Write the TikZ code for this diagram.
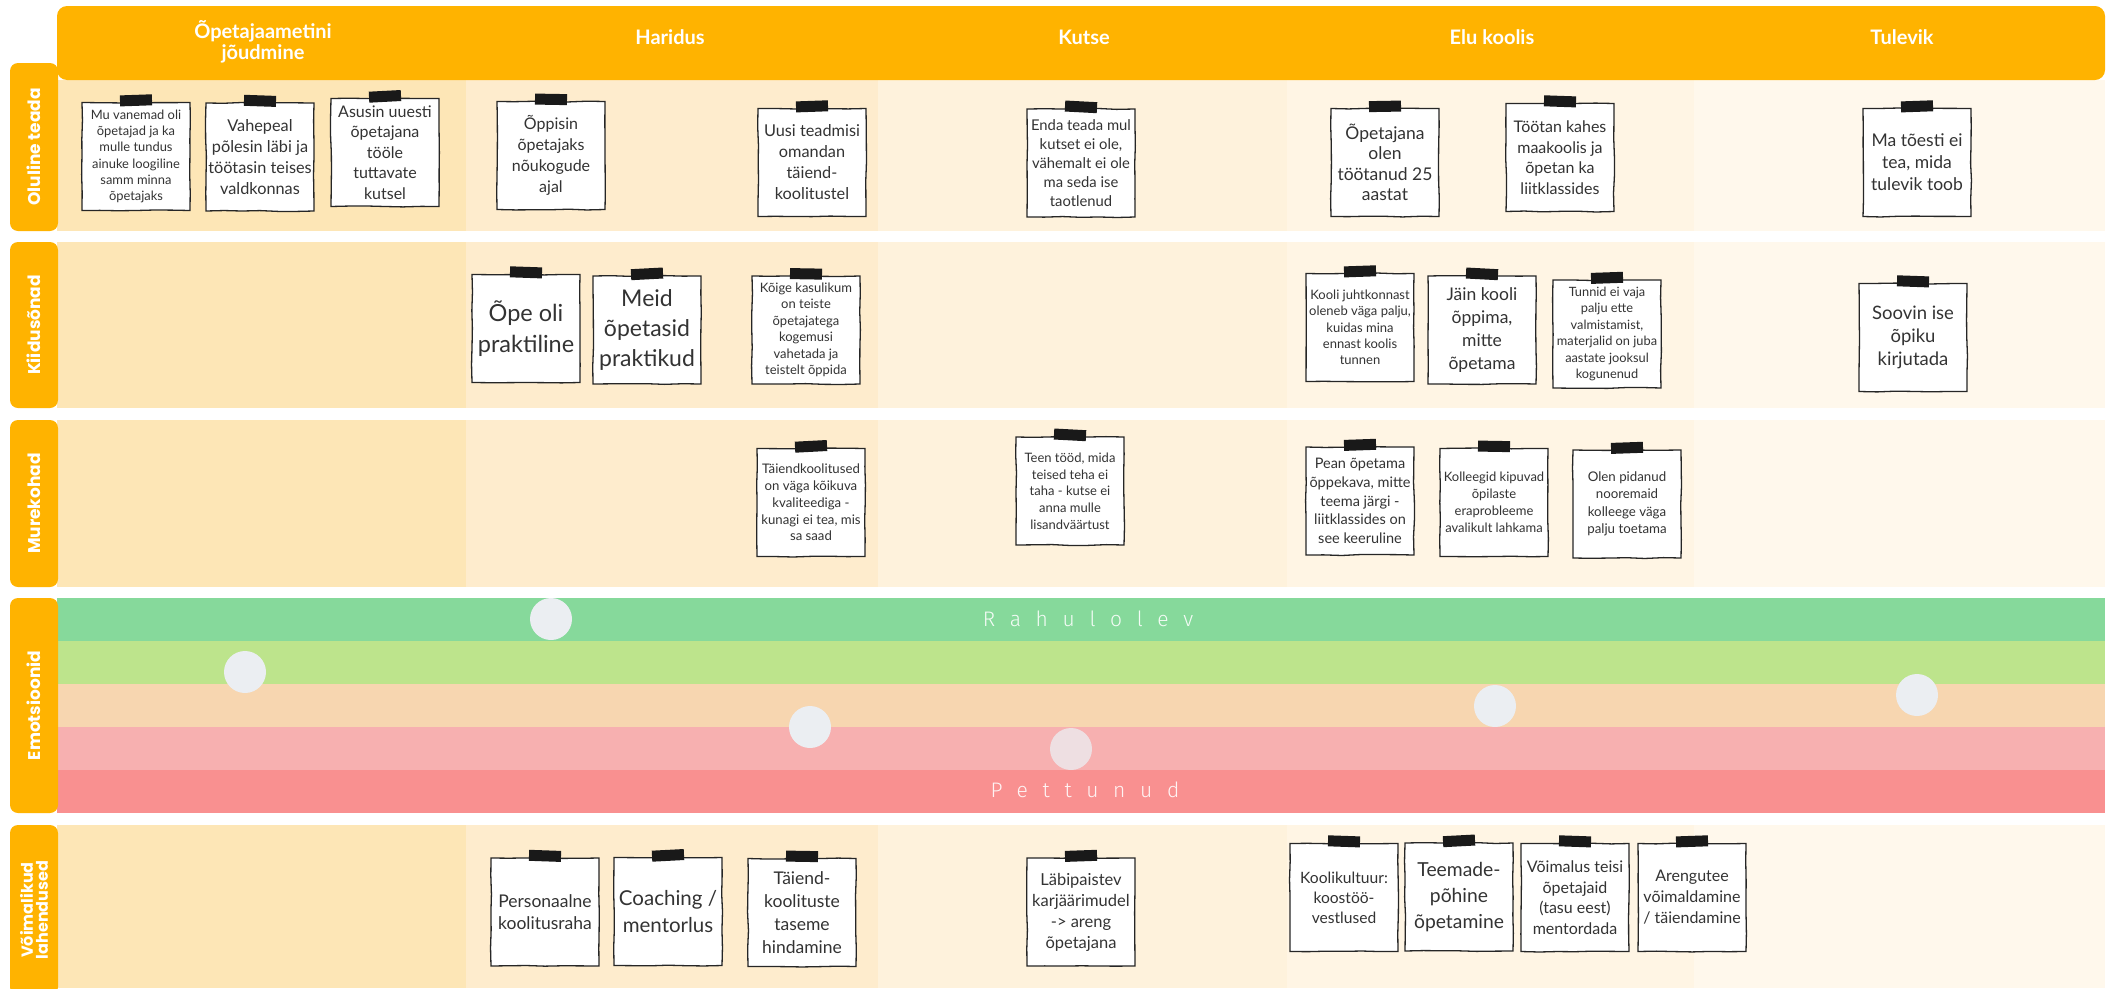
\documentclass[tikz,border=0pt]{standalone}
\usepackage{fontspec}
\setmainfont{Lato}
\newfontfamily\notefont{Lato}
\newfontfamily\headfont{Lato}
\newfontfamily\tabfont{Poppins}
\newfontfamily\moodfont[LetterSpace=70, UprightFont=* Light]{Fira Sans}
\usepackage{tikz}
\usetikzlibrary{positioning,decorations.pathmorphing}

\definecolor{amber}{HTML}{FFB300}
\definecolor{colA}{HTML}{FDE6B6}
\definecolor{colB}{HTML}{FEECCD}
\definecolor{colC}{HTML}{FEF2DC}
\definecolor{colD}{HTML}{FFF5E4}
\definecolor{colE}{HTML}{FFF8EC}
\definecolor{bandA}{HTML}{86D99B}
\definecolor{bandB}{HTML}{BDE48C}
\definecolor{bandC}{HTML}{F7D6B0}
\definecolor{bandD}{HTML}{F7B0B0}
\definecolor{bandE}{HTML}{F99090}
\definecolor{bubble}{HTML}{EBEEF2}
\definecolor{bubblepink}{HTML}{EEDFE2}
\definecolor{ink}{HTML}{333333}

\begin{document}
\begin{tikzpicture}[x=1pt, y=-1pt,
    notebox/.style={draw=black!85, fill=white, line width=1.3pt, minimum width=108pt,
        minimum height=108pt, inner sep=1pt, align=center, text=ink, font=\notefont,
        decorate, decoration={random steps, segment length=18pt, amplitude=0.5pt}},
    fsz/.style 2 args={font=\notefont\fontsize{#1}{#2}\selectfont},
    tape/.style={fill=black!90, minimum width=32pt, minimum height=11pt, inner sep=0pt},
    tab/.style={fill=amber, rounded corners=8pt, minimum height=48pt, inner sep=0pt,
        text=white, align=center, font=\tabfont\bfseries\fontsize{17}{18}\selectfont},
    head/.style={text=white, align=center, font=\headfont\bfseries\fontsize{20}{21}\selectfont},
    mood/.style={circle, fill=bubble, minimum size=42pt, inner sep=0pt},
    moodtext/.style={text=white, opacity=0.9, font=\moodfont\fontsize{21}{24}\selectfont}]

    \pgfmathsetseed{7}
    \useasboundingbox (0,0) rectangle (2114,988);
    \fill[white] (0,0) rectangle (2114,988);

    % Columns (all rows)
    \fill[colA] (57,80) rectangle (466,988);
    \fill[colB] (466,80) rectangle (878,988);
    \fill[colC] (878,80) rectangle (1287,988);
    \fill[colD] (1287,80) rectangle (1694,988);
    \fill[colE] (1694,80) rectangle (2105,988);

    % Gaps between rows
    \fill[white] (57,231) rectangle (2114,242);
    \fill[white] (57,408) rectangle (2114,420);
    \fill[white] (57,587) rectangle (2114,598);
    \fill[white] (57,813) rectangle (2114,825);

    % Emotion bands
    \fill[bandA] (57,598) rectangle (2105,641);
    \fill[bandB] (57,641) rectangle (2105,684);
    \fill[bandC] (57,684) rectangle (2105,727);
    \fill[bandD] (57,727) rectangle (2105,770);
    \fill[bandE] (57,770) rectangle (2105,813);

    % Header
    \fill[amber, rounded corners=10pt] (57,6) rectangle (2105,80);
    \node[head] (h1) at (263,42) {Õpetajaametini\\jõudmine};
    \node[head] (h2) at (670,37) {Haridus};
    \node[head] (h3) at (1084,37) {Kutse};
    \node[head] (h4) at (1492,37) {Elu koolis};
    \node[head] (h5) at (1902,37) {Tulevik};

    % Row labels
    \node[tab, rotate=90, minimum width=168pt] (r1) at (34,147) {Oluline teada};
    \node[tab, rotate=90, minimum width=166pt] (r2) at (34,325) {Kiidusõnad};
    \node[tab, rotate=90, minimum width=167pt] (r3) at (34,503.5) {Murekohad};
    \node[tab, rotate=90, minimum width=215pt] (r4) at (34,705.5) {Emotsioonid};
    \node[tab, rotate=90, minimum width=170pt,
        font=\tabfont\bfseries\fontsize{16}{15}\selectfont] (r5) at (34,910) {Võimalikud\\lahendused};

    % Row 1: Oluline teada
    \node[notebox, fsz={12.9}{16.3}] (n1) at (136,156.5) {Mu vanemad oli\\õpetajad ja ka\\mulle tundus\\ainuke loogiline\\samm minna\\õpetajaks};
    \node[notebox, fsz={16.3}{21}] (n2) at (260,157) {Vahepeal\\põlesin läbi ja\\töötasin teises\\valdkonnas};
    \node[notebox, fsz={16}{20.5}] (n3) at (385,152.5) {Asusin uuesti\\õpetajana\\tööle\\tuttavate\\kutsel};
    \node[notebox, fsz={16}{21}] (n4) at (551,155.5) {Õppisin\\õpetajaks\\nõukogude\\ajal};
    \node[notebox, fsz={16.3}{21}] (n5) at (812,162.5) {Uusi teadmisi\\omandan\\täiend-\\koolitustel};
    \node[notebox, fsz={14.8}{19}] (n6) at (1081,163) {Enda teada mul\\kutset ei ole,\\vähemalt ei ole\\ma seda ise\\taotlenud};
    \node[notebox, fsz={17.5}{20.5}] (n7) at (1385,162.5) {Õpetajana\\olen\\töötanud 25\\aastat};
    \node[notebox, fsz={16}{20.5}] (n8) at (1560,157.5) {Töötan kahes\\maakoolis ja\\õpetan ka\\liitklassides};
    \node[notebox, fsz={17.5}{22}] (n9) at (1917,162.5) {Ma tõesti ei\\tea, mida\\tulevik toob};

    % Row 2: Kiidusõnad
    \node[notebox, fsz={23.5}{31}] (n10) at (526,328.5) {Õpe oli\\praktiline};
    \node[notebox, fsz={23}{30}] (n11) at (647,330) {Meid\\õpetasid\\praktikud};
    \node[notebox, fsz={13}{16.5}] (n12) at (806,330) {Kõige kasulikum\\on teiste\\õpetajatega\\kogemusi\\vahetada ja\\teistelt õppida};
    \node[notebox, fsz={13}{16.3}] (n13) at (1360,327.5) {Kooli juhtkonnast\\oleneb väga palju,\\kuidas mina\\ennast koolis\\tunnen};
    \node[notebox, fsz={17.5}{23.3}] (n14) at (1482,330) {Jäin kooli\\õppima,\\mitte\\õpetama};
    \node[notebox, fsz={12.8}{16.5}] (n15) at (1607,334) {Tunnid ei vaja\\palju ette\\valmistamist,\\materjalid on juba\\aastate jooksul\\kogunenud};
    \node[notebox, fsz={18.5}{23}] (n16) at (1913,337.5) {Soovin ise\\õpiku\\kirjutada};

    % Row 3: Murekohad
    \node[notebox, fsz={13.2}{16.7}] (n17) at (811,502.5) {Täiendkoolitused\\on väga kõikuva\\kvaliteediga -\\kunagi ei tea, mis\\sa saad};
    \node[notebox, fsz={13}{16.7}] (n18) at (1070,491) {Teen tööd, mida\\teised teha ei\\taha - kutse ei\\anna mulle\\lisandväärtust};
    \node[notebox, fsz={14.5}{18.6}] (n19) at (1360,501) {Pean õpetama\\õppekava, mitte\\teema järgi -\\liitklassides on\\see keeruline};
    \node[notebox, fsz={13}{17}] (n20) at (1494,502.5) {Kolleegid kipuvad\\õpilaste\\eraprobleeme\\avalikult lahkama};
    \node[notebox, fsz={13.3}{17.5}] (n21) at (1627,504) {Olen pidanud\\nooremaid\\kolleege väga\\palju toetama};

    % Row 4: Emotsioonid
    \node[moodtext] (calm) at (1088,619) {Rahulolev};
    \node[moodtext] (sad) at (1085,790) {Pettunud};
    \node[mood] (e1) at (551,619) {};
    \node[mood] (e2) at (245,672) {};
    \node[mood] (e3) at (810,727) {};
    \node[mood, fill=bubblepink] (e4) at (1071,749) {};
    \node[mood] (e5) at (1495,706) {};
    \node[mood] (e6) at (1917,695) {};

    % Row 5: Võimalikud lahendused
    \node[notebox, fsz={17.5}{21.7}] (n22) at (545,912) {Personaalne\\koolitusraha};
    \node[notebox, fsz={20.5}{26.7}] (n23) at (668,911.5) {Coaching /\\mentorlus};
    \node[notebox, fsz={17.5}{23}] (n24) at (802,912.5) {Täiend-\\koolituste\\taseme\\hindamine};
    \node[notebox, fsz={16.5}{21}] (n25) at (1081,912) {Läbipaistev\\karjäärimudel\\-> areng\\õpetajana};
    \node[notebox, fsz={15.6}{20}] (n26) at (1344,897.5) {Koolikultuur:\\koostöö-\\vestlused};
    \node[notebox, fsz={19.3}{26}] (n27) at (1459,897) {Teemade-\\põhine\\õpetamine};
    \node[notebox, fsz={16}{20.5}] (n28) at (1575,897.5) {Võimalus teisi\\õpetajaid\\(tasu eest)\\mentordada};
    \node[notebox, fsz={16}{21}] (n29) at (1692,897.5) {Arengutee\\võimaldamine\\/ täiendamine};

    % Tapes
    \foreach \n/\a in {n1/2,n2/-2,n3/3,n4/-1,n5/2,n6/-3,n7/1,n8/-2,n9/2,n10/-2,
        n11/3,n12/-1,n13/2,n14/-3,n15/2,n16/-2,n17/3,n18/-3,n19/2,n20/-1,n21/2,
        n22/-2,n23/3,n24/-1,n25/2,n26/-2,n27/3,n28/-2,n29/2}
        \node[tape, rotate=\a] (tape-\n) at ([yshift=1.5pt]\n.north) {};
\end{tikzpicture}
\end{document}
